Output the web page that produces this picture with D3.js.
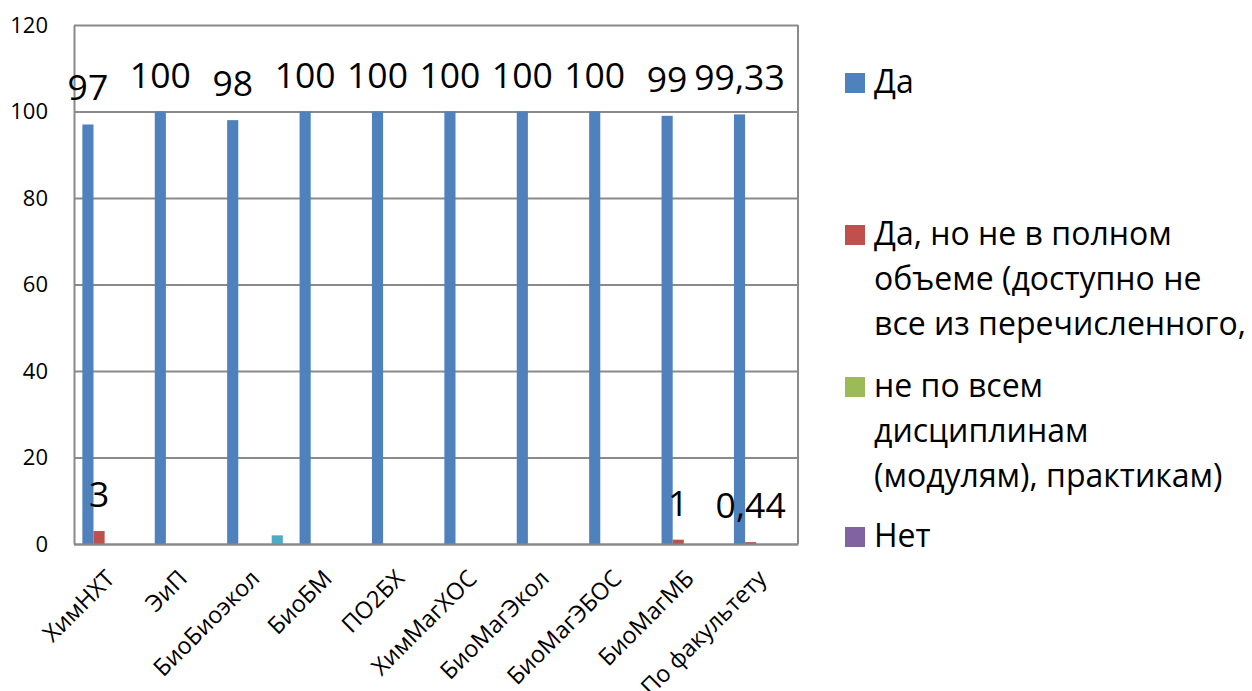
<!DOCTYPE html>
<html>
<head>
<meta charset="utf-8">
<script src="https://cdn.jsdelivr.net/npm/d3@7"></script>
<style>
  html, body { margin: 0; padding: 0; background: #fff; }
  svg { display: block; font-family: "Open Sans", sans-serif; }
</style>
</head>
<body>
<svg id="chart" width="1252" height="691"></svg>
<script>
const categories = ["ХимНХТ", "ЭиП", "БиоБиоэкол", "БиоБМ", "ПО2БХ", "ХимМагХОС", "БиоМагЭкол", "БиоМагЭБОС", "БиоМагМБ", "По факультету"];
const seriesNames = ["Да", "Да, но не в полном объеме (доступно не все из перечисленного,", "не по всем дисциплинам (модулям), практикам)", "Нет", "Ряд5"];
const seriesDa = [97, 100, 98, 100, 100, 100, 100, 100, 99, 99.33];
const seriesPartial = [3, 0, 0, 0, 0, 0, 0, 0, 1, 0.44];
const seriesNotAll = [0, 0, 0, 0, 0, 0, 0, 0, 0, 0];
const seriesNet = [0, 0, 0, 0, 0, 0, 0, 0, 0, 0];
const seriesFifth = [0, 0, 2, 0, 0, 0, 0, 0, 0, 0];
const yTicks = [0, 20, 40, 60, 80, 100, 120];
const labelledSeries = [0, 1];
const legendLines = [["Да"], ["Да, но не в полном", "объеме (доступно не", "все из перечисленного,"], ["не по всем", "дисциплинам", "(модулям), практикам)"], ["Нет"]];

const colors = ["#4F81BD", "#C0504D", "#9BBB59", "#8064A2", "#4BACC6"];
const allSeries = [seriesDa, seriesPartial, seriesNotAll, seriesNet, seriesFifth];

const svg = d3.select("#chart");
const mLeft = 74, mRight = 798, mTop = 25, mBottom = 544;

const y = d3.scaleLinear().domain([0, 120]).range([mBottom, mTop]);
const x0 = d3.scaleBand().domain(categories).range([mLeft, mRight]).padding(0);
const x1 = d3.scaleBand().domain(d3.range(allSeries.length)).range([0, x0.bandwidth()]).paddingInner(0).paddingOuter(0.75);

const locale = d3.formatLocale({decimal: ",", thousands: " ", grouping: [3], currency: ["", ""]});
const fmt = v => locale.format("~f")(v);

// gridlines
const grid = svg.append("g")
  .attr("transform", `translate(${mLeft},0)`)
  .call(d3.axisLeft(y).tickValues(yTicks).tickSize(-(mRight - mLeft)).tickFormat(""));
grid.select(".domain").remove();
grid.selectAll(".tick line").attr("stroke", "#8a8a8a").attr("stroke-width", 2);

// right border
svg.append("line").attr("x1", mRight).attr("x2", mRight).attr("y1", mTop).attr("y2", mBottom)
  .attr("stroke", "#8a8a8a").attr("stroke-width", 2);

// bars
const groups = svg.append("g").selectAll("g").data(categories).join("g")
  .attr("transform", d => `translate(${x0(d)},0)`);
groups.selectAll("rect").data((c, ci) => allSeries.map((s, si) => ({si, v: s[ci]})).filter(d => d.v > 0))
  .join("rect")
  .attr("x", d => x1(d.si))
  .attr("width", x1.bandwidth())
  .attr("y", d => y(d.v))
  .attr("height", d => y(0) - y(d.v))
  .attr("fill", d => colors[d.si]);

// y axis
const yAxis = svg.append("g")
  .attr("transform", `translate(${mLeft},0)`)
  .call(d3.axisLeft(y).tickValues(yTicks).tickSize(0).tickPadding(26));
yAxis.select(".domain").attr("stroke", "#8a8a8a").attr("stroke-width", 2);
yAxis.selectAll("text").attr("font-size", 22).attr("font-family", "Open Sans, sans-serif").attr("fill", "#000");

// x axis
const xAxis = svg.append("g")
  .attr("transform", `translate(0,${mBottom})`)
  .call(d3.axisBottom(x0).tickSize(0).tickFormat(""));
xAxis.select(".domain").attr("stroke", "#8a8a8a").attr("stroke-width", 2);
xAxis.selectAll(".tick").append("text")
  .attr("transform", "translate(6,36) rotate(-45)")
  .attr("text-anchor", "end")
  .attr("font-size", 23.5)
  .attr("font-family", "Open Sans, sans-serif")
  .attr("fill", "#000")
  .text(d => d);

// data labels
const labels = svg.append("g");
labelledSeries.forEach(si => {
  allSeries[si].forEach((v, ci) => {
    if (v > 0) {
      labels.append("text")
        .attr("x", x0(categories[ci]) + x1(si) + x1.bandwidth() / 2)
        .attr("y", y(v) - 24)
        .attr("text-anchor", "middle")
        .attr("font-size", 35.5)
        .attr("fill", "#000")
        .text(fmt(v));
    }
  });
});

// legend
const legendY = [93, 245, 397, 547];
const leg = svg.append("g");
legendLines.forEach((lines, i) => {
  leg.append("rect").attr("x", 845).attr("y", legendY[i] - 20).attr("width", 20).attr("height", 20).attr("fill", colors[i]);
  lines.forEach((ln, j) => {
    leg.append("text").attr("x", 874).attr("y", legendY[i] + j * 45)
      .attr("font-size", 32).attr("fill", "#000").text(ln);
  });
});
</script>
</body>
</html>
